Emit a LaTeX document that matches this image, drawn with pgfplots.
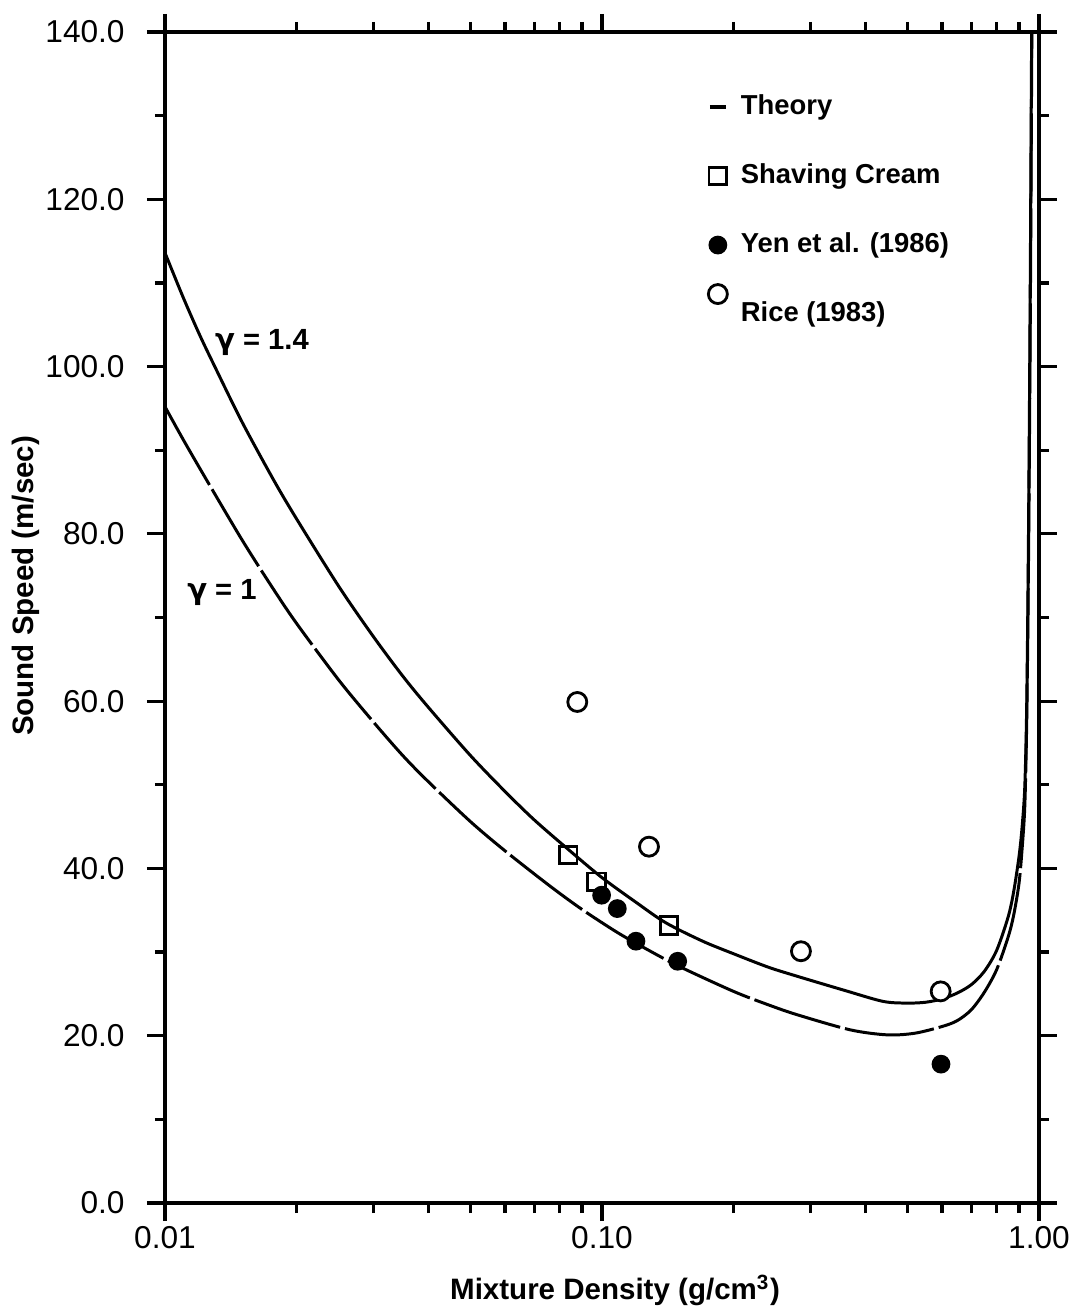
\documentclass[border=0pt]{standalone}
\usepackage{fontspec}
\setmainfont{Liberation Sans}
\newfontfamily\greekfont{DejaVu Sans}
\usepackage{pgfplots}
\pgfplotsset{compat=1.18}

\begin{document}
\begin{tikzpicture}
\path[use as bounding box] (-16.5mm,-11.0mm) rectangle (91.2mm,120.3mm);
\begin{axis}[
  at={(0,0)}, anchor=south west,
  scale only axis, width=87.4mm, height=117.1mm,
  xmode=log, xmin=0.01, xmax=1, ymin=0, ymax=140,
  xtick={0.01,0.1,1}, xticklabels={0.01,0.10,1.00},
  minor xtick={0.02,0.03,0.04,0.05,0.06,0.07,0.08,0.09,0.2,0.3,0.4,0.5,0.6,0.7,0.8,0.9},
  ytick={0,20,40,60,80,100,120,140},
  yticklabels={0.0,20.0,40.0,60.0,80.0,100.0,120.0,140.0},
  minor ytick={10,30,50,70,90,110,130},
  tick align=outside, xtick pos=both, ytick pos=both,
  major tick length=1.8mm, minor tick length=1.0mm,
  every tick/.style={black, line width=0.9pt},
  axis line style={line width=1pt},
  tick label style={font=\fontsize{9}{10}\selectfont},
  yticklabel style={xshift=-1mm},
  xticklabel style={yshift=0.7mm},
  xlabel={Mixture Density (g/cm\textsuperscript{3})},
  xlabel style={at={(axis description cs:0.515,0)}, anchor=base, yshift=-9.6mm,
    font=\bfseries\fontsize{8.4}{10}\selectfont},
  ylabel={Sound Speed (m/sec)},
  ylabel style={at={(axis description cs:-0.159,0.527)}, anchor=center,
    font=\bfseries\fontsize{8.4}{10}\selectfont},
  legend cell align=left,
  legend style={at={(axis description cs:0.620,0.947)}, anchor=north west,
    draw=none, fill=none, inner sep=0pt, outer sep=0pt,
    row sep=4.3mm, column sep=1.2mm,
    font=\bfseries\fontsize{7.8}{9}\selectfont,
    nodes={inner sep=0pt, text height=2mm, text depth=0.6mm}},
]

% theory, gamma = 1.4
\addplot[no marks, line width=0.85pt, smooth, forget plot] coordinates {
(0.0100,113.6) (0.0110,108.3) (0.0120,103.8) (0.0130,100.0) (0.0150,93.4)
(0.0177,86.5) (0.0200,81.8) (0.0250,73.7) (0.0300,67.7) (0.0350,63.0)
(0.0400,59.3) (0.0500,53.5) (0.0600,49.2) (0.0700,45.8) (0.0836,42.3)
(0.1000,38.9) (0.1200,35.9) (0.1400,33.5) (0.1700,31.3) (0.2000,29.8)
(0.2400,28.2) (0.2800,27.1) (0.3600,25.4) (0.4400,24.1) (0.5000,23.9)
(0.5500,24.0) (0.6000,24.4) (0.6500,25.1) (0.7000,26.1) (0.7500,27.7)
(0.8000,30.2) (0.8500,34.2) (0.8750,37.2) (0.9000,41.4) (0.9150,45.0)
(0.9280,49.8) (0.9370,59.0) (0.9440,74.0) (0.9500,92.0) (0.9560,114.0)
(0.9620,140.0)
};
% theory, gamma = 1
\addplot[no marks, line width=0.85pt, smooth, dash pattern=on 9mm off 0.5mm, forget plot] coordinates {
(0.0100,95.2) (0.0110,91.3) (0.0124,86.6) (0.0150,79.3) (0.0175,73.8)
(0.0200,69.3) (0.0250,62.5) (0.0300,57.5) (0.0350,53.5) (0.0400,50.4)
(0.0500,45.6) (0.0600,42.1) (0.0760,37.9) (0.0900,35.1) (0.1080,32.4)
(0.1250,30.5) (0.1500,28.3) (0.2000,25.3) (0.2400,23.7) (0.2800,22.5)
(0.3700,20.7) (0.4500,20.1) (0.5200,20.3) (0.6000,21.1) (0.6500,21.8)
(0.7000,23.1) (0.7500,25.2) (0.8000,27.9) (0.8500,31.8) (0.8750,34.4)
(0.9000,38.2) (0.9150,42.4) (0.9280,47.5) (0.9370,57.0) (0.9440,71.0)
(0.9500,88.0) (0.9560,109.0) (0.9630,140.0)
};
% shaving cream
\addplot[only marks, mark=square, mark size=0.88mm, line width=0.8pt, mark options={fill=white}, forget plot] coordinates {
(0.0837,41.6) (0.0972,38.4) (0.1423,33.2)
};
% Yen et al. (1986)
\addplot[only marks, mark=*, mark size=0.85mm, line width=0.5pt, forget plot] coordinates {
(0.0998,36.8) (0.1084,35.2) (0.1196,31.3) (0.1490,28.9) (0.5967,16.6)
};
% Rice (1983)
\addplot[only marks, mark=*, mark size=0.95mm, line width=0.8pt, mark options={fill=white}, forget plot] coordinates {
(0.0878,59.9) (0.1281,42.6) (0.2853,30.1) (0.5957,25.3)
};

\node[font=\bfseries\fontsize{8.3}{10}\selectfont] at (axis cs:0.01667,102.9) {{\greekfont γ} = 1.4};
\node[font=\bfseries\fontsize{8.3}{10}\selectfont] at (axis cs:0.0135,73.0) {{\greekfont γ} = 1};

\addlegendimage{legend image code/.code={
  \path[draw=none, fill=none] (0mm,-1mm) rectangle (2.2mm,1mm);
  \draw[line width=1pt, solid] (0.3mm,0mm) -- (1.9mm,0mm);}}
\addlegendentry{Theory}
\addlegendimage{legend image code/.code={
  \path[draw=none, fill=none] (0mm,-1mm) rectangle (2.2mm,1mm);
  \draw[overlay, solid, only marks, mark=square, mark size=0.88mm, line width=0.8pt]
    plot coordinates {(1.1mm,0mm)};}}
\addlegendentry{Shaving Cream}
\addlegendimage{legend image code/.code={
  \path[draw=none, fill=none] (0mm,-1mm) rectangle (2.2mm,1mm);
  \draw[overlay, solid, only marks, mark=*, mark size=0.85mm, line width=0.5pt]
    plot coordinates {(1.1mm,0mm)};}}
\addlegendentry{Yen et al. (1986)}
\addlegendimage{legend image code/.code={
  \path[draw=none, fill=none] (0mm,-1mm) rectangle (2.2mm,1mm);
  \draw[overlay, solid, only marks, mark=*, mark size=0.95mm, line width=0.8pt, mark options={fill=white}]
    plot coordinates {(1.1mm,2mm)};}}
\addlegendentry{Rice (1983)}
\end{axis}
\end{tikzpicture}
\end{document}
